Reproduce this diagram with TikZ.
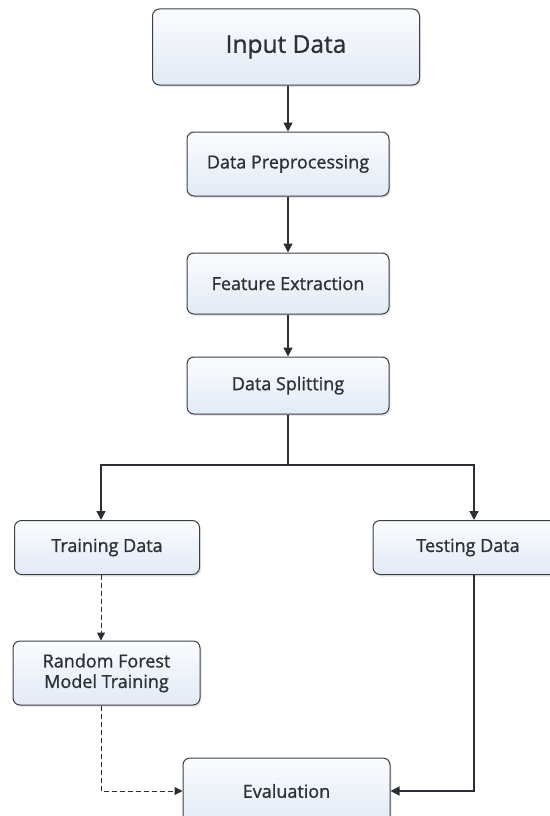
\documentclass[tikz,border=0pt]{standalone}
\usepackage{fontspec}
\setmainfont{Open Sans}[BoldFont={Open Sans}, BoldFeatures={FakeBold=1.0}]
\usetikzlibrary{shadows,arrows.meta}
\definecolor{boxline}{HTML}{3A3F47}
\definecolor{boxtop}{HTML}{FBFCFE}
\definecolor{boxbot}{HTML}{E2EAF5}
\definecolor{arr}{HTML}{2A2F37}
\definecolor{txt}{HTML}{2B2F36}
\begin{document}
\begin{tikzpicture}[x=1pt,y=-1pt,
  box/.style={draw=boxline, line width=1pt, rounded corners=7pt,
    top color=boxtop, bottom color=boxbot,
    drop shadow={shadow xshift=1.5pt, shadow yshift=-2pt, opacity=0.18, fill=gray},
    text=txt, font=\bfseries\fontsize{18}{20.5}\selectfont, align=center, inner sep=0pt},
  conn/.style={draw=arr, line width=1.4pt, -{Triangle[length=9pt,width=9pt]}},
  dconn/.style={draw=arr, line width=1pt, dash pattern=on 5pt off 3pt, -{Triangle[length=8pt,width=8pt]}}]
\useasboundingbox[fill=white] (0,0) rectangle (549,816);
\node[box, minimum width=267pt, minimum height=76pt, font=\bfseries\fontsize{24.5}{28}\selectfont] (input) at (286,47) {Input Data};
\node[box, minimum width=202pt, minimum height=64pt] (pre) at (288,164) {Data Preprocessing};
\node[box, minimum width=202pt, minimum height=61pt] (feat) at (288,283.5) {Feature Extraction};
\node[box, minimum width=202pt, minimum height=57pt] (split) at (288,385.5) {Data Splitting};
\node[box, minimum width=185pt, minimum height=54pt] (train) at (107,547.5) {Training Data};
\node[box, minimum width=190pt, minimum height=54pt] (test) at (468,547.5) {Testing Data};
\node[box, minimum width=187pt, minimum height=64pt] (rf) at (106.5,673) {Random Forest\\Model Training};
\node[box, minimum width=207pt, minimum height=66pt] (eval) at (286.5,791) {Evaluation};
\coordinate (fork) at (288,465);
\draw[conn] (input.south -| 288,0) -- (pre.north);
\draw[conn] (pre) -- (feat);
\draw[conn] (feat) -- (split);
\draw[draw=arr, line width=1.4pt] (split.south) -- (fork);
\draw[conn] (fork) -| (101,0 |- train.north);
\draw[conn] (fork) -| (474,0 |- test.north);
\draw[dconn] (101,0 |- train.south) -- (101,0 |- rf.north);
\draw[dconn] (101,0 |- rf.south) |- (eval.west);
\draw[conn] (474,0 |- test.south) |- (eval.east);
\end{tikzpicture}
\end{document}
